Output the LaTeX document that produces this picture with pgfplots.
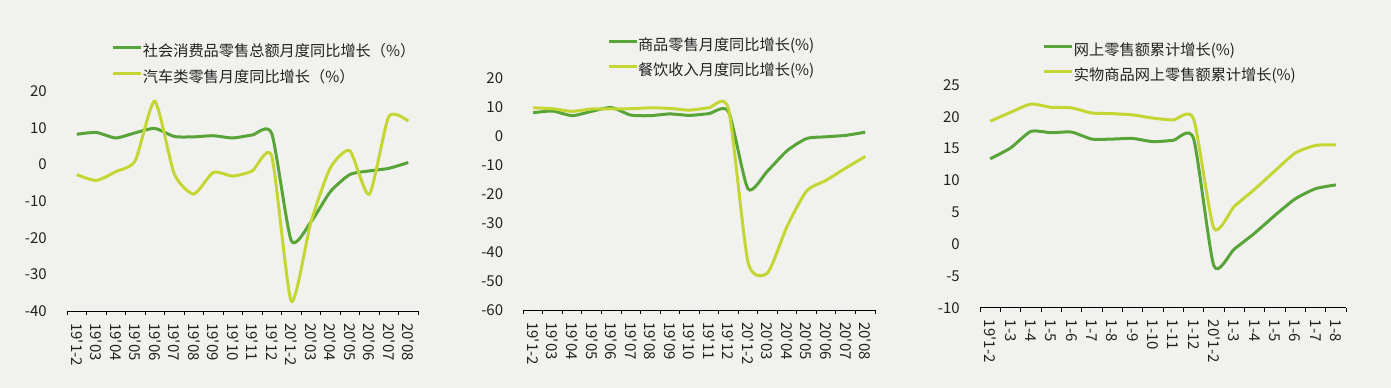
\documentclass[border=0pt]{standalone}
\usepackage{fontspec}
\setmainfont{Noto Sans CJK SC}
\usepackage{pgfplots}
\pgfplotsset{compat=1.18}
\definecolor{bg}{RGB}{241,242,238}
\definecolor{cg}{RGB}{88,164,56}
\definecolor{cy}{RGB}{196,214,52}
\definecolor{tx}{RGB}{34,34,34}

\pgfplotsset{
 panel/.style={
  scale only axis,
  xmin=-0.5, xmax=17.5,
  axis x line*=bottom, axis y line*=left,
  y axis line style={draw=none},
  x axis line style={line width=1bp, black},
  xtick={0,...,17},
  minor xtick={-0.5,0.5,...,17.5},
  tick align=outside,
  major x tick style={draw=none},
  minor x tick style={black, line width=1bp},
  minor tick length=4bp,
  major tick length=0pt,
  ytick style={draw=none},
  /pgf/number format/assume math mode=true,
  tick label style={font=\fontsize{15bp}{17bp}\selectfont, text=tx},
  xticklabel style={rotate=-90, anchor=west, inner xsep=12bp},
  yticklabel style={inner xsep=0pt, xshift=-20bp},
  clip=false,
  legend style={draw=none, fill=none, inner sep=0pt, outer sep=0pt,
    font=\fontsize{15.2bp}{17bp}\selectfont, text=tx,
    cells={anchor=west},
    nodes={inner sep=0pt, text height=12bp, text depth=4bp},
    /tikz/every even column/.append style={column sep=5bp}},
  legend image code/.code={\draw[##1, line width=3bp] (0bp,5bp) -- (28bp,5bp);},
  every axis plot/.append style={smooth, tension=0.38, line width=3bp, no markers},
 }
}

\begin{document}
\begin{tikzpicture}
\path[use as bounding box, fill=bg] (0,0) rectangle (1391bp,388bp);

% Panel 1
\begin{axis}[panel,
  at={(67bp,77bp)}, anchor=south west,
  width=351bp, height=220bp,
  ymin=-40, ymax=20, ytick={-40,-30,...,20},
  xticklabels={19\textquotesingle1-2,19\textquotesingle03,19\textquotesingle04,19\textquotesingle05,19\textquotesingle06,19\textquotesingle07,19\textquotesingle08,19\textquotesingle09,19\textquotesingle10,19\textquotesingle11,19\textquotesingle12,20\textquotesingle1-2,20\textquotesingle03,20\textquotesingle04,20\textquotesingle05,20\textquotesingle06,20\textquotesingle07,20\textquotesingle08},
  legend style={at={(0.128,1.211)}, anchor=north west, row sep=10bp},
]
\addplot[cg] coordinates {(0,8.2)(1,8.7)(2,7.2)(3,8.6)(4,9.8)(5,7.6)(6,7.5)(7,7.8)(8,7.2)(9,8.0)(10,8.4)(11,-20.8)(12,-15.8)(13,-7.5)(14,-2.8)(15,-1.8)(16,-1.1)(17,0.5)};
\addlegendentry{社会消费品零售总额月度同比增长（\%）}
\addplot[cy] coordinates {(0,-2.8)(1,-4.4)(2,-2.0)(3,1.0)(4,17.2)(5,-2.6)(6,-8.1)(7,-2.2)(8,-3.2)(9,-1.8)(10,2.2)(11,-37.3)(12,-16.0)(13,-1.0)(14,3.7)(15,-8.2)(16,13.0)(17,11.8)};
\addlegendentry{汽车类零售月度同比增长（\%）}
\end{axis}

% Panel 2
\begin{axis}[panel,
  at={(523.3bp,78bp)}, anchor=south west,
  width=351.7bp, height=231.7bp,
  ymin=-60, ymax=20, ytick={-60,-50,...,20},
  xticklabels={19\textquotesingle1-2,19\textquotesingle03,19\textquotesingle04,19\textquotesingle05,19\textquotesingle06,19\textquotesingle07,19\textquotesingle08,19\textquotesingle09,19\textquotesingle10,19\textquotesingle11,19\textquotesingle12,20\textquotesingle1-2,20\textquotesingle03,20\textquotesingle04,20\textquotesingle05,20\textquotesingle06,20\textquotesingle07,20\textquotesingle08},
  legend style={at={(0.238,1.172)}, anchor=north west, row sep=9bp},
]
\addplot[cg] coordinates {(0,8.1)(1,8.7)(2,7.1)(3,8.6)(4,9.9)(5,7.3)(6,7.1)(7,7.7)(8,7.2)(9,7.8)(10,8.5)(11,-18.2)(12,-12.0)(13,-5.0)(14,-0.8)(15,-0.2)(16,0.3)(17,1.4)};
\addlegendentry{商品零售月度同比增长(\%)}
\addplot[cy] coordinates {(0,9.8)(1,9.5)(2,8.6)(3,9.4)(4,9.4)(5,9.5)(6,9.8)(7,9.6)(8,9.0)(9,9.8)(10,9.5)(11,-43.5)(12,-47.2)(13,-31.1)(14,-18.9)(15,-15.2)(16,-11.0)(17,-7.0)};
\addlegendentry{餐饮收入月度同比增长(\%)}
\end{axis}

% Panel 3
\begin{axis}[panel,
  at={(980bp,80.3bp)}, anchor=south west,
  width=366bp, height=222.7bp,
  ymin=-10, ymax=25, ytick={-10,-5,...,25},
  xticklabels={19\textquotesingle1-2,1-3,1-4,1-5,1-6,1-7,1-8,1-9,1-10,1-11,1-12,20\textquotesingle1-2,1-3,1-4,1-5,1-6,1-7,1-8},
  legend style={at={(0.172,1.186)}, anchor=north west, row sep=9bp},
]
\addplot[cg] coordinates {(0,13.4)(1,15.1)(2,17.7)(3,17.5)(4,17.6)(5,16.5)(6,16.5)(7,16.6)(8,16.1)(9,16.3)(10,16.6)(11,-3.4)(12,-0.8)(13,1.7)(14,4.5)(15,7.1)(16,8.7)(17,9.3)};
\addlegendentry{网上零售额累计增长(\%)}
\addplot[cy] coordinates {(0,19.3)(1,20.7)(2,22.0)(3,21.5)(4,21.4)(5,20.6)(6,20.5)(7,20.3)(8,19.8)(9,19.5)(10,19.7)(11,2.5)(12,5.9)(13,8.6)(14,11.5)(15,14.3)(16,15.5)(17,15.6)};
\addlegendentry{实物商品网上零售额累计增长(\%)}
\end{axis}
\end{tikzpicture}
\end{document}
